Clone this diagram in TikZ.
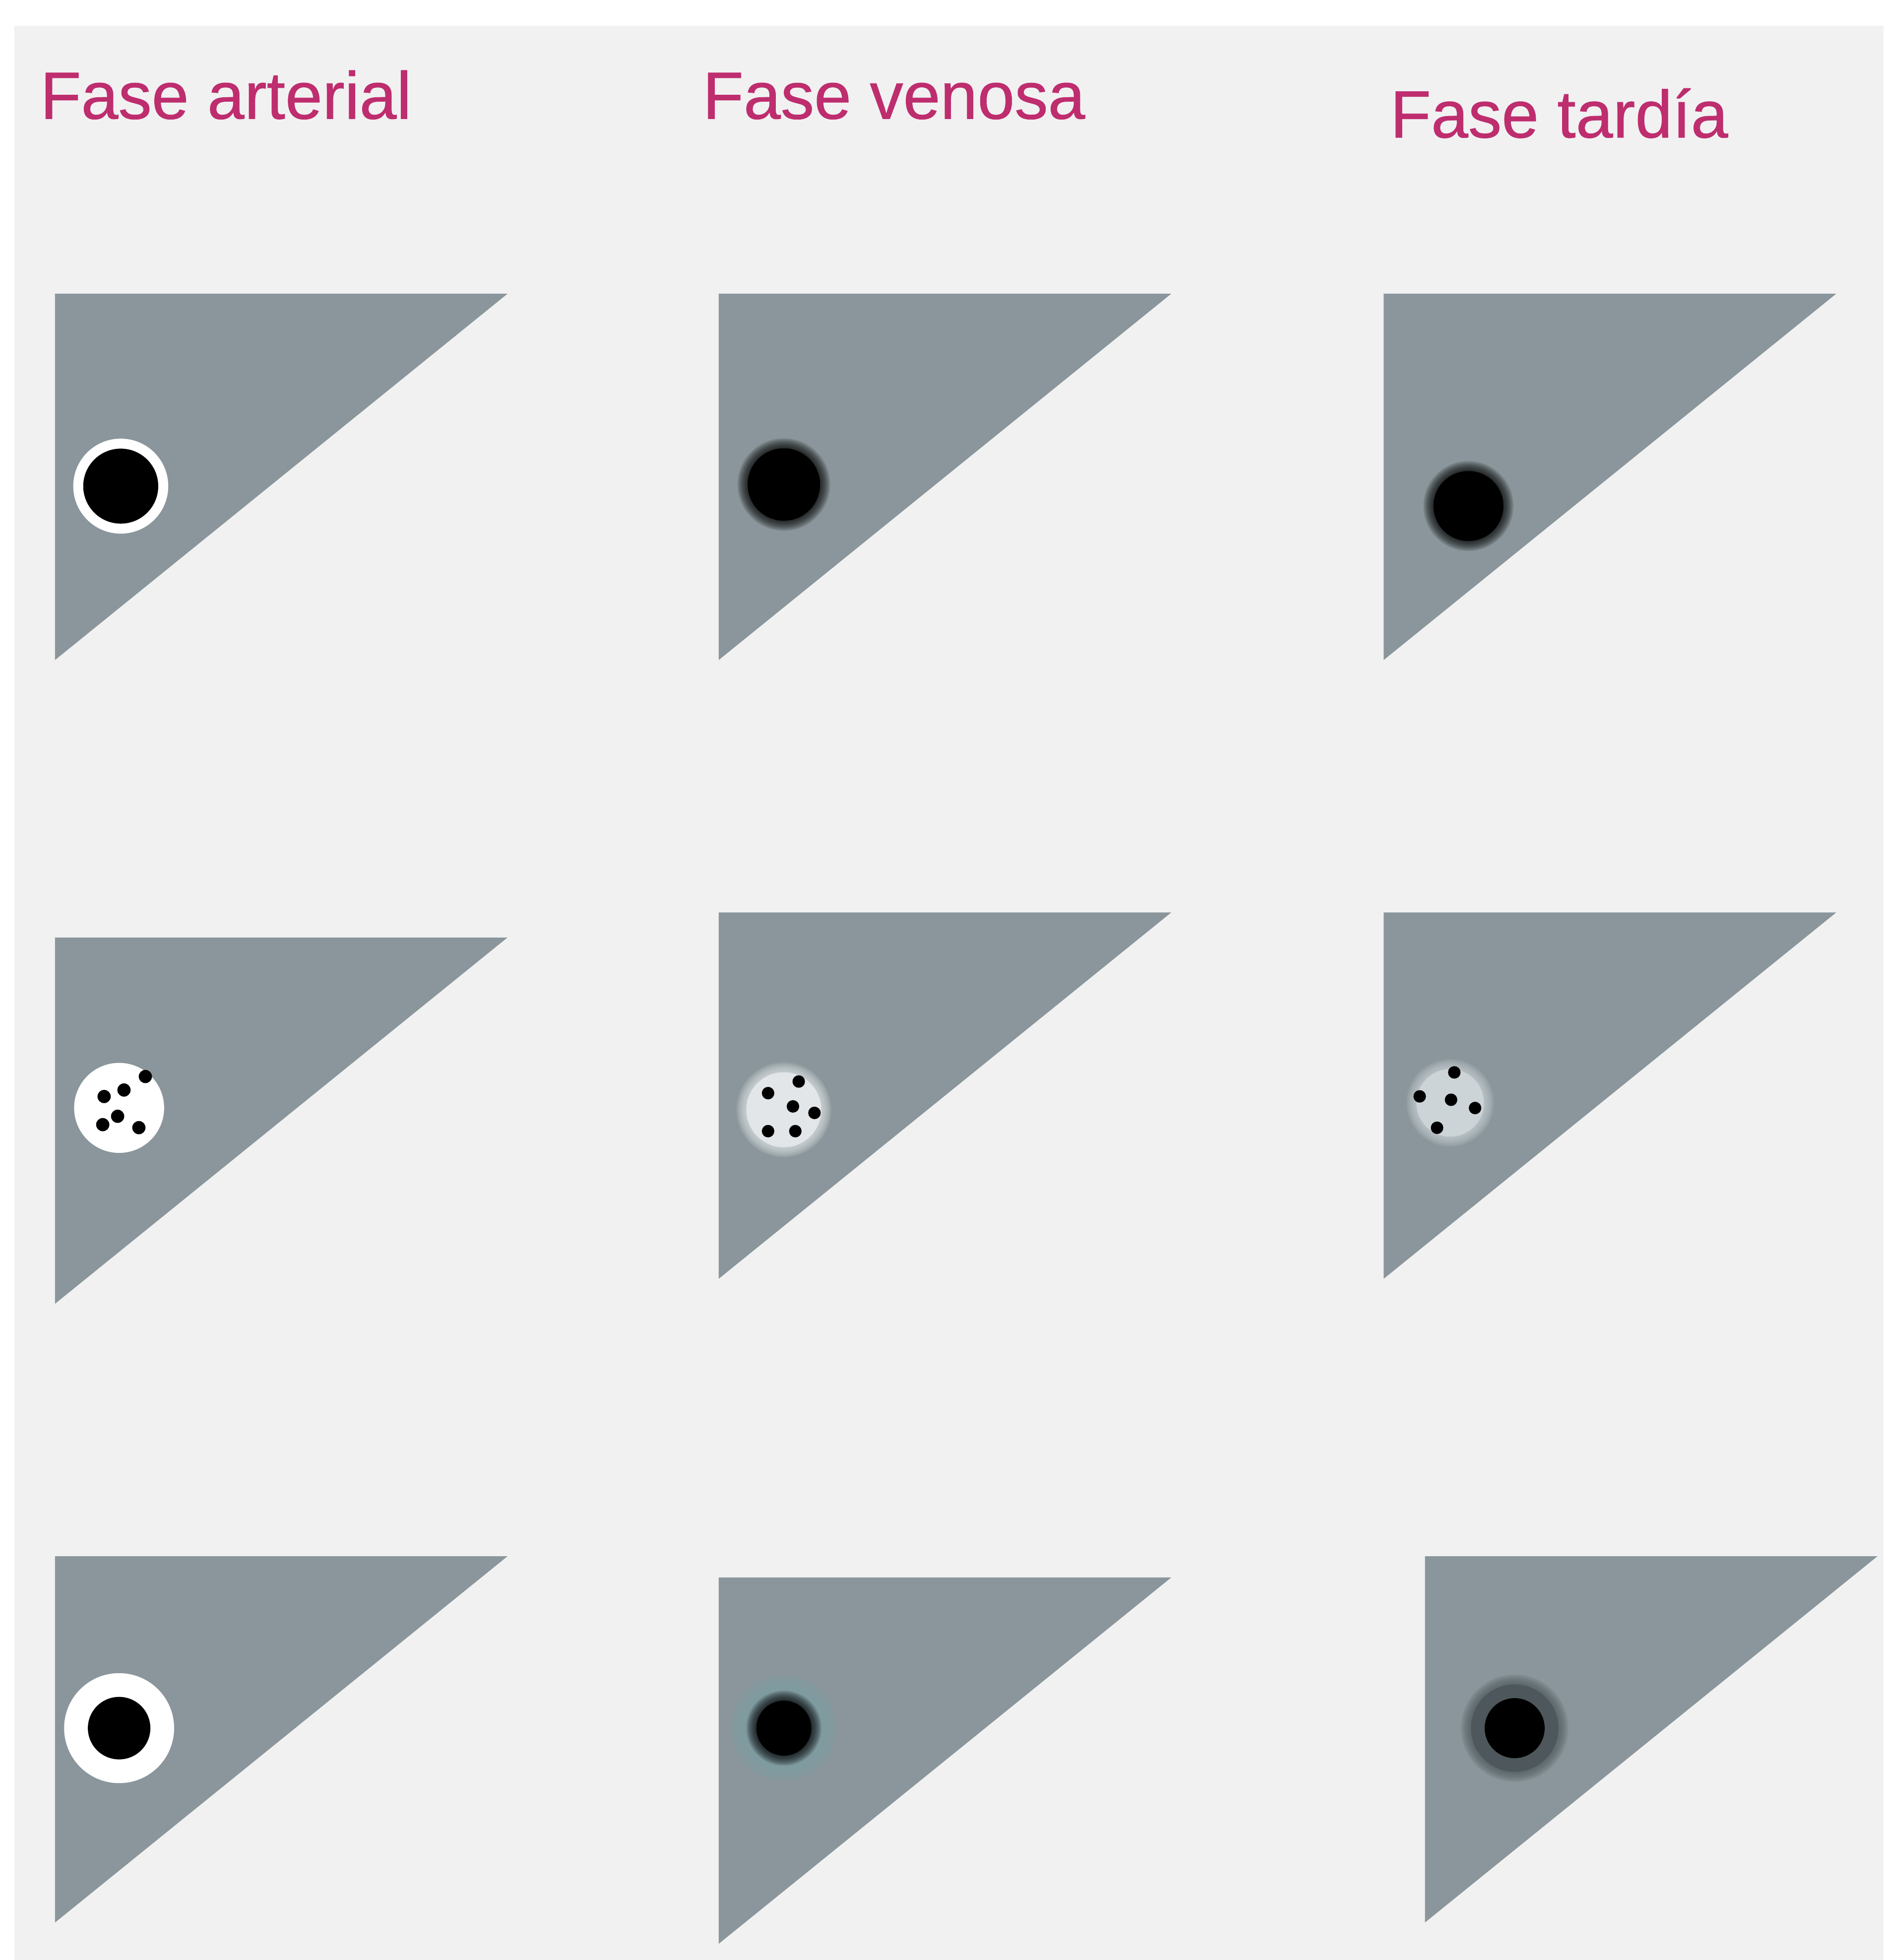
\documentclass[tikz,border=0pt]{standalone}
\usepackage{fontspec}
\setmainfont{Liberation Sans}
\newfontfamily\titlefont[FakeBold=0.6]{Liberation Sans}
\definecolor{bgc}{RGB}{241,241,241}
\definecolor{tric}{RGB}{138,150,155}
\definecolor{titc}{RGB}{190,45,110}
\definecolor{lightc}{RGB}{226,230,232}
\definecolor{lightc2}{RGB}{205,212,215}
\definecolor{halo}{RGB}{118,160,165}
\definecolor{ringc}{RGB}{78,88,92}
\newcommand\mytri[2]{\fill[tric] (#1,#2) -- ++(362,0) -- ++(-362,293) -- cycle;}
\newcommand\softdisc[4]{%
  \foreach \d in {1,...,8}{\fill[#4,opacity=0.13] (#1,#2) circle ({#3+\d});}
  \fill[#4] (#1,#2) circle (#3);}
\tikzset{
  title/.style={anchor=base west, font=\titlefont\fontsize{38}{40}\selectfont, text=titc, inner sep=0pt},
  speck/.style={fill=black}
}
\begin{document}
\begin{tikzpicture}[x=0.025cm,y=-0.025cm]
\useasboundingbox (0,0) rectangle (1507,1568);
\fill[white] (0,0) rectangle (1507,1568);
\fill[bgc] (11.5,20.6) rectangle (1507,1568);

% titles
\node[title] (t1) at (32,95) {Fase arterial};
\node[title] (t2) at (562,95) {Fase venosa};
\node[title] (t3) at (1112,110) {Fase tardía};

% triangles
\mytri{44}{235}
\mytri{575}{235}
\mytri{1107}{235}
\mytri{44}{750}
\mytri{575}{730}
\mytri{1107}{730}
\mytri{44}{1245}
\mytri{575}{1262}
\mytri{1140}{1245}

% row 1
\fill[white] (96.6,388.9) circle (38);
\fill[black] (96.6,388.9) circle (30);
\softdisc{627.1}{387.6}{29}{black}
\softdisc{1174.8}{404.8}{28}{black}

% row 2
\fill[white] (95.3,886.3) circle (36);
\foreach \p in {(116.3,861.2),(99.2,872),(83.3,877.2),(94.1,893),(82.2,899.7),(111.1,902.1)}
  \fill[speck] \p circle (5.3);
\softdisc{627.1}{887.8}{30}{lightc}
\foreach \p in {(639,865.2),(614.5,874.5),(634.4,885.1),(651.6,890.3),(614.5,904.9),(636.3,904.9)}
  \fill[speck] \p circle (5);
\softdisc{1160.2}{882.3}{27}{lightc2}
\foreach \p in {(1163.5,857.9),(1135.8,877.1),(1160.9,879.8),(1180.1,886.4),(1149.7,902.2)}
  \fill[speck] \p circle (5);

% row 3
\fill[white] (95.3,1382.5) circle (44);
\fill[black] (95.3,1382.5) circle (25);
\fill[halo,opacity=0.3] (627.1,1382.5) circle (42);
\fill[halo,opacity=0.3] (627.1,1382.5) circle (36);
\softdisc{627.1}{1382.5}{22}{black}
\softdisc{1211.8}{1382.5}{35}{ringc}
\fill[black] (1211.8,1382.5) circle (24);
\end{tikzpicture}
\end{document}
